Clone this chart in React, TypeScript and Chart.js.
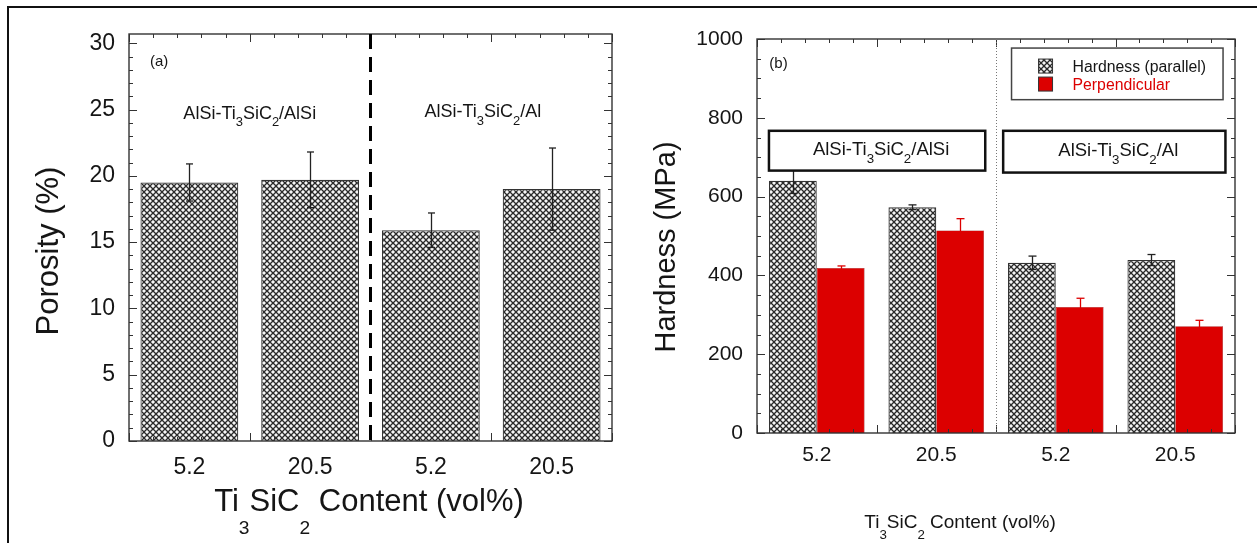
import React, { useEffect, useRef } from 'react';
import { Chart, registerables } from 'chart.js';

Chart.register(...registerables);

// ---------- data ----------
const contentLabels = ['5.2', '20.5', '5.2', '20.5'];
const porosityValues = [19.5, 19.7, 15.9, 19.0];
const porosityErrors = [1.4, 2.1, 1.3, 3.1];
const porosityTicks = [0, 5, 10, 15, 20, 25, 30];
const hardnessParallel = [640, 573, 432, 439];
const hardnessParallelErrors = [32, 6, 17, 14];
const hardnessPerpendicular = [419, 514, 320, 271];
const hardnessPerpendicularErrors = [5, 30, 22, 15];
const hardnessTicks = [0, 200, 400, 600, 800, 1000];
const seriesNames = ['Hardness (parallel)', 'Perpendicular'];
const groupNames = ['AlSi-Ti_3SiC_2/AlSi', 'AlSi-Ti_3SiC_2/Al'];
const xTitle = 'Ti_3SiC_2 Content (vol%)';
const porosityTitle = 'Porosity (%)';
const hardnessTitle = 'Hardness (MPa)';
const panelTags = ['(a)', '(b)'];

const FONT = '"Liberation Sans", Arial, Helvetica, sans-serif';
const RED = '#dc0000';
const INK = '#151515';

type Seg = { t: string; sub: boolean };
function parseRich(s: string): Seg[] {
  const segs: Seg[] = [];
  let buf = '';
  let i = 0;
  while (i < s.length) {
    if (s[i] === '_' && i + 1 < s.length) {
      if (buf) { segs.push({ t: buf, sub: false }); buf = ''; }
      segs.push({ t: s[i + 1], sub: true });
      i += 2;
    } else { buf += s[i]; i++; }
  }
  if (buf) segs.push({ t: buf, sub: false });
  return segs;
}

// y = vertical middle of capital letters
function drawRich(ctx: CanvasRenderingContext2D, s: string, x: number, y: number, size: number, color: string,
  opts: { rotate?: boolean; subScale?: number; subDrop?: number; align?: 'center' | 'left' } = {}) {
  const segs = parseRich(s);
  const subScale = opts.subScale ?? 0.65;
  const subDrop = opts.subDrop ?? 0.5;
  ctx.save();
  ctx.fillStyle = color;
  ctx.textBaseline = 'alphabetic';
  ctx.textAlign = 'left';
  let total = 0;
  const widths = segs.map(g => {
    ctx.font = `${g.sub ? size * subScale : size}px ${FONT}`;
    const w = ctx.measureText(g.t).width;
    total += w;
    return w;
  });
  ctx.translate(x, y);
  if (opts.rotate) ctx.rotate(-Math.PI / 2);
  let cx = opts.align === 'left' ? 0 : -total / 2;
  const base = size * 0.36;
  segs.forEach((g, k) => {
    ctx.font = `${g.sub ? size * subScale : size}px ${FONT}`;
    ctx.fillText(g.t, cx, g.sub ? base + size * subDrop : base);
    cx += widths[k];
  });
  ctx.restore();
}

function line(ctx: CanvasRenderingContext2D, x1: number, y1: number, x2: number, y2: number) {
  ctx.beginPath();
  ctx.moveTo(x1, y1);
  ctx.lineTo(x2, y2);
  ctx.stroke();
}

function makeHatch(): CanvasPattern | string {
  const c = document.createElement('canvas');
  const n = 6;
  c.width = n; c.height = n;
  const g = c.getContext('2d');
  if (!g) return '#888';
  g.fillStyle = '#f6f6f6';
  g.fillRect(0, 0, n, n);
  g.strokeStyle = '#2a2a2a';
  g.lineWidth = 1.3;
  line(g, -1, -1, n + 1, n + 1);
  line(g, -1, n + 1, n + 1, -1);
  const p = g.createPattern(c, 'repeat');
  return p || '#888';
}

function drawErrorBars(chart: any, di: number, errs: number[], color: string, cap: number) {
  const { ctx, scales: { y } } = chart;
  const meta = chart.getDatasetMeta(di);
  const vals = chart.data.datasets[di].data as number[];
  ctx.save();
  ctx.strokeStyle = color;
  ctx.lineWidth = 1.3;
  meta.data.forEach((bar: any, i: number) => {
    const v = vals[i];
    const e = errs[i];
    const px = Math.round(bar.x) + 0.5;
    const t = y.getPixelForValue(v + e);
    const b = y.getPixelForValue(v - e);
    line(ctx, px, t, px, b);
    line(ctx, px - cap / 2, t, px + cap / 2, t);
    line(ctx, px - cap / 2, b, px + cap / 2, b);
  });
  ctx.restore();
}

function drawFrame(chart: any, minorStep: number, majorStep: number, maxTick: number) {
  const { ctx, chartArea: a, scales: { x, y } } = chart;
  ctx.save();
  ctx.strokeStyle = '#333';
  ctx.lineWidth = 1.4;
  ctx.strokeRect(a.left, a.top, a.right - a.left, a.bottom - a.top);
  ctx.lineWidth = 1;
  for (let k = 0; k * minorStep <= maxTick + 1e-9; k++) {
    const v = k * minorStep;
    const py = Math.round(y.getPixelForValue(v)) + 0.5;
    const r = v / majorStep;
    const major = Math.abs(r - Math.round(r)) < 1e-9;
    const len = major ? 8 : 4;
    line(ctx, a.left, py, a.left + len, py);
    line(ctx, a.right, py, a.right - len, py);
  }
  const n = chart.data.labels.length;
  for (let k = 0; k <= n * 5; k++) {
    const px = Math.round(x.getPixelForValue(-0.5 + k / 5)) + 0.5;
    const len = k % 5 === 0 ? 8 : 4;
    line(ctx, px, a.top, px, a.top + len);
    line(ctx, px, a.bottom, px, a.bottom - len);
  }
  ctx.restore();
}

const porosityDecor = {
  id: 'porosityDecor',
  afterDatasetsDraw(chart: any) {
    drawErrorBars(chart, 0, porosityErrors, '#222', 7);
  },
  afterDraw(chart: any) {
    const { ctx, chartArea: a, scales: { x, y } } = chart;
    drawFrame(chart, 1, 5, 30);
    const sx = x.getPixelForValue(1.5);
    ctx.save();
    ctx.strokeStyle = '#000';
    ctx.lineWidth = 3;
    ctx.setLineDash([15, 8]);
    line(ctx, sx, a.top, sx, a.bottom);
    ctx.restore();
    drawRich(ctx, panelTags[0], x.getPixelForValue(-0.25), y.getPixelForValue(28.7), 15, INK);
    drawRich(ctx, groupNames[0], x.getPixelForValue(0.5), y.getPixelForValue(24.8), 18, INK, { subScale: 0.72, subDrop: 0.42 });
    drawRich(ctx, groupNames[1], x.getPixelForValue(2.43), y.getPixelForValue(24.9), 18, INK, { subScale: 0.72, subDrop: 0.42 });
    drawRich(ctx, xTitle, 369, 500, 31, INK, { subScale: 0.62, subDrop: 0.75 });
    drawRich(ctx, porosityTitle, 47, 251, 31, INK, { rotate: true });
  },
};

const hardnessDecor = {
  id: 'hardnessDecor',
  afterDatasetsDraw(chart: any) {
    drawErrorBars(chart, 0, hardnessParallelErrors, '#222', 8);
    drawErrorBars(chart, 1, hardnessPerpendicularErrors, RED, 8);
  },
  afterDraw(chart: any) {
    const { ctx, chartArea: a, scales: { x, y } } = chart;
    drawFrame(chart, 50, 200, 1000);
    const sx = x.getPixelForValue(1.5);
    ctx.save();
    ctx.strokeStyle = '#777';
    ctx.lineWidth = 1;
    ctx.setLineDash([1, 2]);
    line(ctx, Math.round(sx) + 0.5, a.top, Math.round(sx) + 0.5, a.bottom);
    ctx.restore();
    drawRich(ctx, panelTags[1], x.getPixelForValue(-0.32), y.getPixelForValue(939), 15, INK);

    const boxes = [
      { x1: -0.40, x2: 1.41, y1: 767, y2: 666, label: groupNames[0] },
      { x1: 1.56, x2: 3.42, y1: 767, y2: 661, label: groupNames[1] },
    ];
    boxes.forEach(bx => {
      const l = x.getPixelForValue(bx.x1), r = x.getPixelForValue(bx.x2);
      const t = y.getPixelForValue(bx.y1), b = y.getPixelForValue(bx.y2);
      ctx.save();
      ctx.fillStyle = '#fff';
      ctx.fillRect(l, t, r - l, b - t);
      ctx.strokeStyle = '#111';
      ctx.lineWidth = 2.5;
      ctx.strokeRect(l, t, r - l, b - t);
      ctx.restore();
      drawRich(ctx, bx.label, (l + r) / 2 + 4, (t + b) / 2 - 2, 18.5, INK, { subScale: 0.72, subDrop: 0.42 });
    });

    // legend
    const ll = x.getPixelForValue(1.63), lr = x.getPixelForValue(3.40);
    const lt = y.getPixelForValue(977), lb = y.getPixelForValue(846);
    ctx.save();
    ctx.strokeStyle = '#444';
    ctx.lineWidth = 1.5;
    ctx.strokeRect(ll, lt, lr - ll, lb - lt);
    const sw = 14;
    const rows = [lt + 11, lt + 29];
    const fills = [chart.data.datasets[0].backgroundColor, RED];
    const colors = [INK, RED];
    rows.forEach((ry, i) => {
      ctx.fillStyle = fills[i];
      ctx.fillRect(ll + 27, ry, sw, sw);
      ctx.strokeStyle = '#333';
      ctx.lineWidth = 1;
      ctx.strokeRect(ll + 27, ry, sw, sw);
      drawRich(ctx, seriesNames[i], ll + 61, ry + sw / 2, 15.8, colors[i], { align: 'left' });
    });
    ctx.restore();

    drawRich(ctx, xTitle, 330, 521, 19, INK, { subScale: 0.7, subDrop: 0.6 });
    drawRich(ctx, hardnessTitle, 35, 247, 29, INK, { rotate: true });
  },
};

function tickFont(size: number) {
  return { size, family: FONT };
}

export default function App() {
  const leftRef = useRef<HTMLCanvasElement>(null);
  const rightRef = useRef<HTMLCanvasElement>(null);

  useEffect(() => {
    if (!leftRef.current || !rightRef.current) return;
    const hatch = makeHatch();

    const left = new Chart(leftRef.current, {
      type: 'bar',
      data: {
        labels: contentLabels,
        datasets: [{
          label: porosityTitle,
          data: porosityValues,
          backgroundColor: hatch as any,
          borderColor: '#333',
          borderWidth: 1.2,
          categoryPercentage: 0.81,
          barPercentage: 1,
        }],
      },
      options: {
        responsive: false,
        animation: false,
        layout: { padding: { top: 34, right: 18, left: 0, bottom: 0 } },
        plugins: { legend: { display: false }, tooltip: { enabled: false } },
        scales: {
          x: {
            grid: { display: false, drawTicks: false },
            border: { display: false },
            ticks: { font: tickFont(23), color: INK, padding: 13 },
            afterFit: (s: any) => { s.height = 102; },
          },
          y: {
            min: 0,
            max: 30.7,
            grid: { display: false, drawTicks: false },
            border: { display: false },
            afterBuildTicks: (s: any) => { s.ticks = porosityTicks.map(v => ({ value: v })); },
            ticks: { font: tickFont(23), color: INK, padding: 14, callback: (v: any) => String(v) },
            afterFit: (s: any) => { s.width = 129; },
          },
        },
      },
      plugins: [porosityDecor],
    });

    const right = new Chart(rightRef.current, {
      type: 'bar',
      data: {
        labels: contentLabels,
        datasets: [
          {
            label: seriesNames[0],
            data: hardnessParallel,
            backgroundColor: hatch as any,
            borderColor: '#333',
            borderWidth: 1.2,
            categoryPercentage: 0.8,
            barPercentage: 1,
          },
          {
            label: seriesNames[1],
            data: hardnessPerpendicular,
            backgroundColor: RED,
            borderColor: '#8a0000',
            borderWidth: 0.6,
            categoryPercentage: 0.8,
            barPercentage: 1,
          },
        ],
      },
      options: {
        responsive: false,
        animation: false,
        layout: { padding: { top: 39, right: 22, left: 0, bottom: 0 } },
        plugins: { legend: { display: false }, tooltip: { enabled: false } },
        scales: {
          x: {
            grid: { display: false, drawTicks: false },
            border: { display: false },
            ticks: { font: tickFont(21), color: INK, padding: 10 },
            afterFit: (s: any) => { s.height = 110; },
          },
          y: {
            min: 0,
            max: 1000,
            grid: { display: false, drawTicks: false },
            border: { display: false },
            afterBuildTicks: (s: any) => { s.ticks = hardnessTicks.map(v => ({ value: v })); },
            ticks: { font: tickFont(21), color: INK, padding: 14, callback: (v: any) => String(v) },
            afterFit: (s: any) => { s.width = 127; },
          },
        },
      },
      plugins: [hardnessDecor],
    });

    return () => {
      left.destroy();
      right.destroy();
    };
  }, []);

  return (
    <div style={{ position: 'fixed', left: 0, top: 0, width: 1257, height: 543, background: '#fff', overflow: 'hidden' }}>
      <div style={{ position: 'absolute', left: 7, top: 6, width: 1250, height: 537, borderTop: '2px solid #111', borderLeft: '2px solid #111' }} />
      <canvas ref={leftRef} width={630} height={543} style={{ position: 'absolute', left: 0, top: 0, width: 630, height: 543 }} />
      <canvas ref={rightRef} width={627} height={543} style={{ position: 'absolute', left: 630, top: 0, width: 627, height: 543 }} />
    </div>
  );
}
